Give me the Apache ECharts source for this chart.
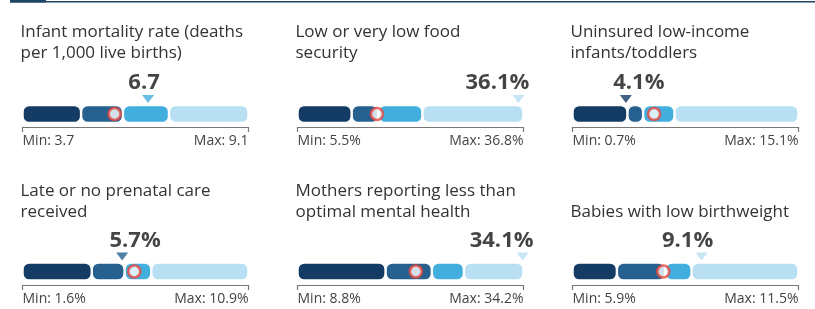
<!DOCTYPE html>
<html>
<head>
<meta charset="utf-8">
<script src="https://cdn.jsdelivr.net/npm/echarts@6/dist/echarts.min.js"></script>
<style>
  html, body { margin: 0; padding: 0; background: #fff; }
  #chart { width: 815px; height: 309px; }
</style>
</head>
<body>
<div id="chart"></div>
<script>
// indicator data
const titles = [
    'Infant mortality rate (deaths\nper 1,000 live births)',
    'Low or very low food\nsecurity',
    'Uninsured low-income\ninfants/toddlers',
    'Late or no prenatal care\nreceived',
    'Mothers reporting less than\noptimal mental health',
    'Babies with low birthweight'
]
const mins = [3.7, 5.5, 0.7, 1.6, 8.8, 5.9]
const maxs = [9.1, 36.8, 15.1, 10.9, 34.2, 11.5]
const cuts = [
    [5.1, 6.1, 7.2],
    [13.0, 16.7, 22.8],
    [4.2, 5.2, 7.2],
    [4.45, 5.8, 6.9],
    [18.7, 23.9, 27.5],
    [7.0, 8.2, 8.85]
]
const values = [6.7, 36.1, 4.1, 5.7, 34.1, 9.1]
const valueLabels = ['6.7', '36.1%', '4.1%', '5.7%', '34.1%', '9.1%']
const nationals = [5.9, 16.5, 5.9, 6.2, 22.1, 8.15]
const minLabels = ['Min: 3.7', 'Min: 5.5%', 'Min: 0.7%', 'Min: 1.6%', 'Min: 8.8%', 'Min: 5.9%']
const maxLabels = ['Max: 9.1', 'Max: 36.8%', 'Max: 15.1%', 'Max: 10.9%', 'Max: 34.2%', 'Max: 11.5%']

// layout / style
const segColors = ['#133b63', '#26608f', '#42aede', '#b8e0f2']
const colLeft = [22.5, 297.5, 572.5]
const rowGridTop = [101, 258]
const rowGridH = [26, 27]
const rowTitleTop = [22, 181]
const labelShift = [-4, -21, 13, 13, -21, -14]
const font = 'Open Sans'

let option = {
    animation: false,
    title: [],
    grid: [],
    xAxis: [],
    yAxis: [],
    series: [],
    graphic: [
        { type: 'rect', shape: { x: 10, y: 1, width: 805, height: 1.5 }, style: { fill: '#1d4566' } },
        { type: 'rect', shape: { x: 10, y: 0, width: 36, height: 2.5 }, style: { fill: '#1d4566' } }
    ]
}

for (let i = 0; i < 6; i++) {
    let col = i % 3
    let row = Math.floor(i / 3)
    let oneLine = titles[i].indexOf('\n') < 0

    option.title.push({
        text: titles[i],
        left: colLeft[col] - 2,
        top: rowTitleTop[row] + (oneLine ? 21 : 0),
        padding: 0,
        textStyle: { fontFamily: font, fontSize: 17, fontWeight: 'normal', color: '#333', lineHeight: 21 }
    })

    option.grid.push({ left: colLeft[col], top: rowGridTop[row], width: 226, height: rowGridH[row] })

    // data axis (hidden) + min/max axis line
    option.xAxis.push({
        type: 'value', gridIndex: i, min: mins[i], max: maxs[i], show: false
    })
    option.xAxis.push({
        type: 'value', gridIndex: i, min: 0, max: 1, interval: 1, position: 'bottom',
        axisLine: { show: true, lineStyle: { color: '#777', width: 1.2 } },
        axisTick: { show: true, length: 5, lineStyle: { color: '#777', width: 1.2 } },
        splitLine: { show: false },
        axisLabel: {
            show: true, margin: 7, fontFamily: font, fontSize: 14, color: '#444',
            alignMinLabel: 'left', alignMaxLabel: 'right',
            formatter: v => v === 0 ? minLabels[i] : maxLabels[i]
        }
    })
    option.yAxis.push({ type: 'category', gridIndex: i, data: ['x'], show: false })

    // invisible base so segments start at min
    option.series.push({
        type: 'bar', xAxisIndex: 2 * i, yAxisIndex: i, stack: 's' + i,
        barWidth: 18, data: [mins[i]], itemStyle: { color: 'transparent' }, silent: true
    })
    let edges = [mins[i]].concat(cuts[i], [maxs[i]])
    for (let s = 0; s < 4; s++) {
        option.series.push({
            type: 'bar', xAxisIndex: 2 * i, yAxisIndex: i, stack: 's' + i,
            barWidth: 18,
            data: [+(edges[s + 1] - edges[s]).toFixed(3)],
            itemStyle: { color: segColors[s], borderRadius: 6, borderColor: '#fff', borderWidth: 1.2 }
        })
    }

    // which segment the state value falls in -> triangle colour
    let seg = 0
    while (seg < 3 && values[i] > cuts[i][seg]) seg++

    option.series.push({
        type: 'scatter', xAxisIndex: 2 * i, yAxisIndex: i,
        data: [[values[i], 'x']],
        symbol: 'triangle', symbolRotate: 180, symbolSize: [12, 8], symbolOffset: [0, -15],
        itemStyle: { color: segColors[seg] },
        label: {
            show: true, position: 'top', distance: 1, offset: [labelShift[i], 0],
            formatter: valueLabels[i],
            fontFamily: font, fontSize: 22, fontWeight: 'bold', color: '#151515'
        },
        z: 5
    })
    option.series.push({
        type: 'scatter', xAxisIndex: 2 * i, yAxisIndex: i,
        data: [[nationals[i], 'x']],
        symbol: 'circle', symbolSize: 12,
        itemStyle: { color: '#fff', borderColor: '#e8473f', borderWidth: 2.6 },
        z: 6
    })
}

let myChart = echarts.init(document.getElementById('chart'), null, { renderer: 'canvas' })
myChart.setOption(option)
</script>
</body>
</html>
